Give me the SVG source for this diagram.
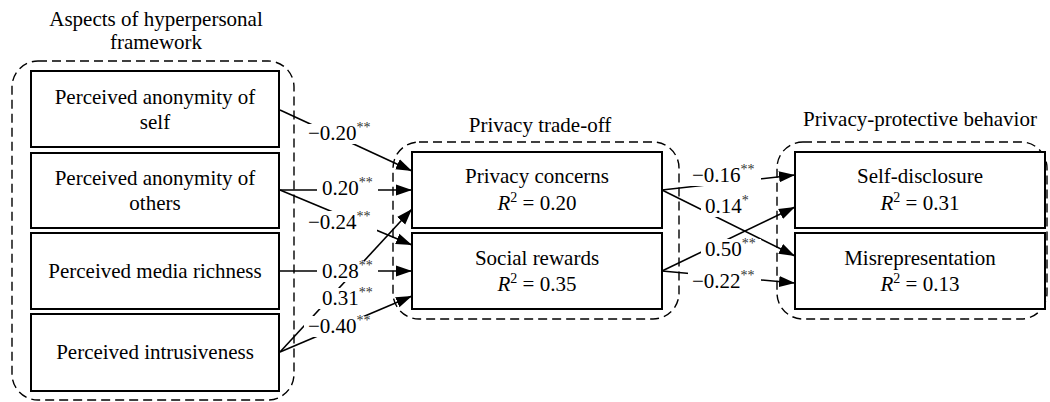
<svg xmlns="http://www.w3.org/2000/svg" width="1050" height="402" viewBox="0 0 1050 402" font-family="'Liberation Serif', Tinos, 'Times New Roman', 'DejaVu Serif', serif">
  <style>
    text { font-family: "Liberation Serif", Tinos, "Times New Roman", "DejaVu Serif", serif; font-size: 21px; fill: #000; }
    .c { text-anchor: middle; }
    .box { fill: #fff; stroke: #000; stroke-width: 2; }
    .grp { fill: none; stroke: #000; stroke-width: 1.4; stroke-dasharray: 9 5; }
    .edge { fill: none; stroke: #000; stroke-width: 1.6; marker-end: url(#arrow); }
    .mask { fill: #fff; stroke: none; }
    .sup { font-size: 14px; fill: #333; }
    .it { font-style: italic; }
  </style>
  <defs>
    <marker id="arrow" markerUnits="userSpaceOnUse" markerWidth="17" markerHeight="12" refX="16" refY="6" orient="auto">
      <path d="M0,0.5 L16,6 L0,11.5 z" fill="#000"/>
    </marker>
  </defs>

  <!-- dashed grouping frames with their titles -->
  <g id="group-hyperpersonal">
    <rect class="grp" x="12" y="61" width="282" height="339" rx="26"/>
    <text class="c" x="156" y="26">Aspects of hyperpersonal</text>
    <text class="c" x="156" y="49">framework</text>
  </g>
  <g id="group-tradeoff">
    <rect class="grp" x="393" y="142" width="286" height="177" rx="26"/>
    <text class="c" x="540" y="132">Privacy trade-off</text>
  </g>
  <g id="group-behavior">
    <rect class="grp" x="777" y="142" width="270" height="177" rx="26"/>
    <text class="c" x="920" y="126">Privacy-protective behavior</text>
  </g>

  <!-- path connectors -->
  <g id="connectors">
    <line class="edge" x1="280" y1="110" x2="412" y2="171"/>
    <line class="edge" x1="280" y1="190" x2="412" y2="190"/>
    <line class="edge" x1="280" y1="190" x2="412" y2="245"/>
    <line class="edge" x1="280" y1="271" x2="412" y2="271"/>
    <line class="edge" x1="280" y1="352" x2="412" y2="209"/>
    <line class="edge" x1="280" y1="352" x2="412" y2="296"/>
    <line class="edge" x1="662" y1="190" x2="795" y2="175"/>
    <line class="edge" x1="662" y1="190" x2="795" y2="256"/>
    <line class="edge" x1="662" y1="271" x2="795" y2="207"/>
    <line class="edge" x1="662" y1="271" x2="795" y2="283"/>

    <!-- path coefficients on white backing -->
    <g id="coefficients">
      <rect class="mask" x="304" y="124" width="73" height="20"/>
      <text x="308" y="140">−0.20<tspan class="sup" dy="-8">**</tspan></text>

      <rect class="mask" x="317" y="178" width="61" height="21"/>
      <text x="322" y="195">0.20<tspan class="sup" dy="-8">**</tspan></text>

      <rect class="mask" x="304" y="211" width="73" height="22"/>
      <text x="308" y="229">−0.24<tspan class="sup" dy="-8">**</tspan></text>

      <rect class="mask" x="317" y="261" width="61" height="21"/>
      <text x="322" y="278">0.28<tspan class="sup" dy="-8">**</tspan></text>

      <rect class="mask" x="317" y="288" width="61" height="21"/>
      <text x="322" y="305">0.31<tspan class="sup" dy="-8">**</tspan></text>

      <rect class="mask" x="304" y="316" width="73" height="21"/>
      <text x="308" y="333">−0.40<tspan class="sup" dy="-8">**</tspan></text>

      <rect class="mask" x="688" y="165" width="73" height="21"/>
      <text x="692" y="182">−0.16<tspan class="sup" dy="-8">**</tspan></text>

      <rect class="mask" x="701" y="196" width="52" height="21"/>
      <text x="705" y="213">0.14<tspan class="sup" dy="-8">*</tspan></text>

      <rect class="mask" x="701" y="239" width="60" height="21"/>
      <text x="705" y="256">0.50<tspan class="sup" dy="-8">**</tspan></text>

      <rect class="mask" x="688" y="271" width="73" height="21"/>
      <text x="692" y="288">−0.22<tspan class="sup" dy="-8">**</tspan></text>
    </g>
  </g>

  <!-- predictor nodes -->
  <g id="anonymity-self">
    <rect class="box" x="31" y="71" width="248" height="76"/>
    <text class="c" x="155" y="104">Perceived anonymity of</text>
    <text class="c" x="155" y="129">self</text>
  </g>
  <g id="anonymity-others">
    <rect class="box" x="31" y="153" width="248" height="75"/>
    <text class="c" x="155" y="185">Perceived anonymity of</text>
    <text class="c" x="155" y="210">others</text>
  </g>
  <g id="media-richness">
    <rect class="box" x="31" y="233" width="248" height="76"/>
    <text class="c" x="155" y="278">Perceived media richness</text>
  </g>
  <g id="intrusiveness">
    <rect class="box" x="31" y="314" width="248" height="77"/>
    <text class="c" x="155" y="359">Perceived intrusiveness</text>
  </g>

  <!-- mediator nodes -->
  <g id="privacy-concerns">
    <rect class="box" x="412" y="152" width="250" height="76"/>
    <text class="c" x="537" y="183">Privacy concerns</text>
    <text class="c" x="537" y="210"><tspan class="it">R</tspan><tspan font-size="14" dy="-8">2</tspan><tspan dy="8"> = 0.20</tspan></text>
  </g>
  <g id="social-rewards">
    <rect class="box" x="412" y="233" width="250" height="76"/>
    <text class="c" x="537" y="265">Social rewards</text>
    <text class="c" x="537" y="291"><tspan class="it">R</tspan><tspan font-size="14" dy="-8">2</tspan><tspan dy="8"> = 0.35</tspan></text>
  </g>

  <!-- outcome nodes -->
  <g id="self-disclosure">
    <rect class="box" x="795" y="152" width="250" height="76"/>
    <text class="c" x="920" y="183">Self-disclosure</text>
    <text class="c" x="920" y="210"><tspan class="it">R</tspan><tspan font-size="14" dy="-8">2</tspan><tspan dy="8"> = 0.31</tspan></text>
  </g>
  <g id="misrepresentation">
    <rect class="box" x="795" y="233" width="250" height="76"/>
    <text class="c" x="920" y="265">Misrepresentation</text>
    <text class="c" x="920" y="291"><tspan class="it">R</tspan><tspan font-size="14" dy="-8">2</tspan><tspan dy="8"> = 0.13</tspan></text>
  </g>
</svg>
